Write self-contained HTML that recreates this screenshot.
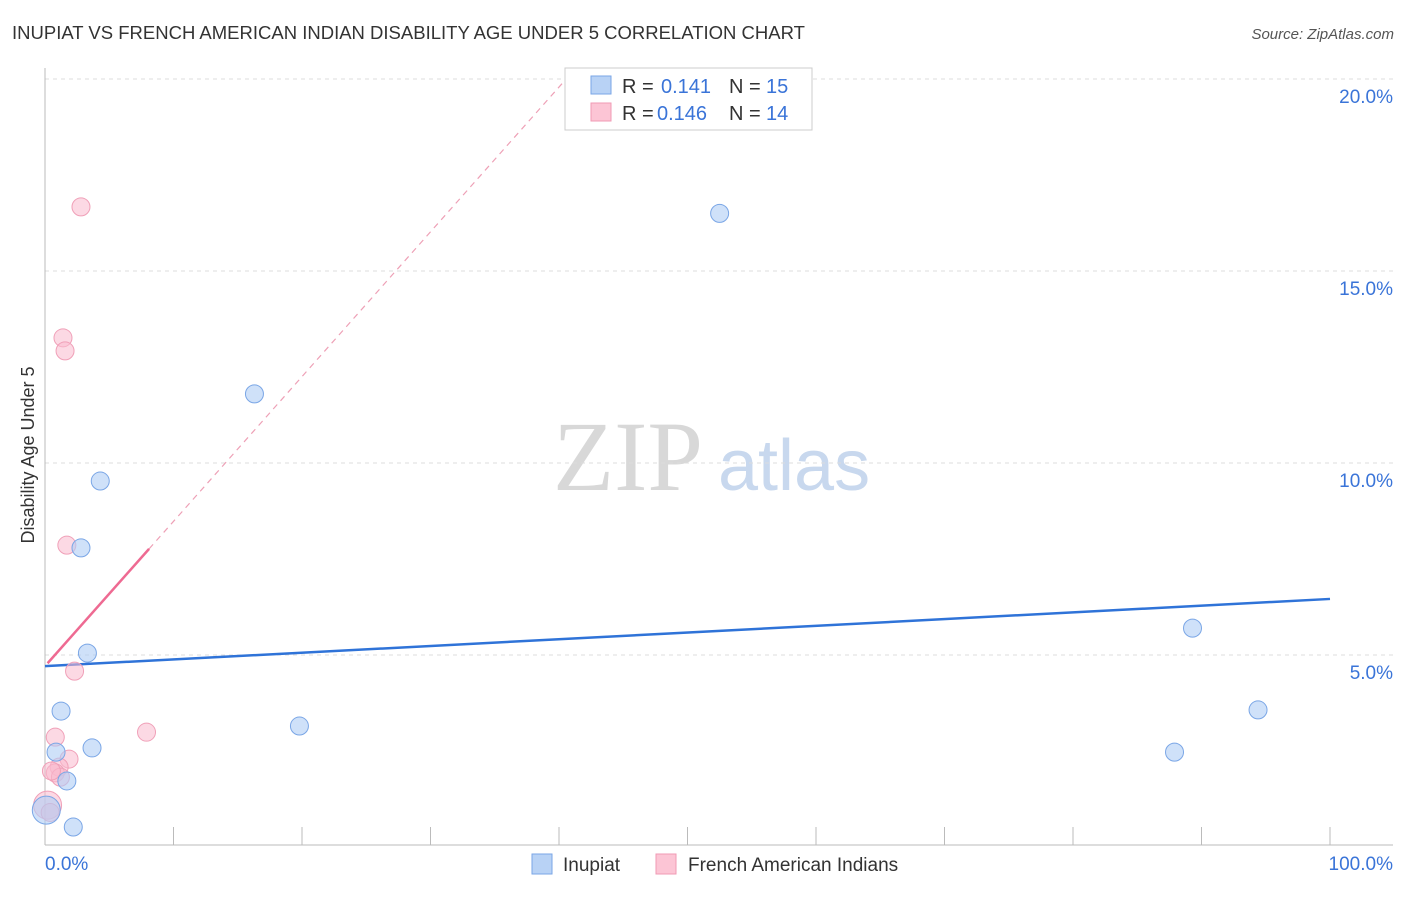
<!DOCTYPE html>
<html><head><meta charset="utf-8">
<style>
body{margin:0;background:#fff;font-family:"Liberation Sans",sans-serif;}
</style></head>
<body>
<svg id="chart" width="1406" height="892" xmlns="http://www.w3.org/2000/svg" font-family="Liberation Sans, sans-serif">
<text x="12" y="39" font-size="18.5" fill="#333">INUPIAT VS FRENCH AMERICAN INDIAN DISABILITY AGE UNDER 5 CORRELATION CHART</text>
<text x="1394" y="39" font-size="15" fill="#555" font-style="italic" text-anchor="end">Source: ZipAtlas.com</text>
<text x="34" y="455" font-size="18" fill="#333" text-anchor="middle" transform="rotate(-90 34 455)">Disability Age Under 5</text>
<text x="553" y="490" font-size="100" fill="#d8d8d8" style="font-family:'Liberation Serif',serif">ZIP</text>
<text x="718" y="490" font-size="72" fill="#c8d8ee">atlas</text>
<g id="grid"></g><g id="axes"></g><g id="trends"></g><g id="points"></g>
<g>
<rect x="565" y="68" width="247" height="62" fill="#fff" stroke="#ccc"/>
<rect x="591" y="76" width="20" height="18" fill="#b8d2f5" stroke="#7aa6e6"/>
<rect x="591" y="103" width="20" height="18" fill="#fcc5d5" stroke="#f09ab4"/>
<text x="622" y="93" font-size="20" fill="#333">R = </text><text x="661" y="93" font-size="20" fill="#3a74d8">0.141</text>
<text x="729" y="93" font-size="20" fill="#333">N = </text><text x="766" y="93" font-size="20" fill="#3a74d8">15</text>
<text x="622" y="120" font-size="20" fill="#333">R = </text><text x="657" y="120" font-size="20" fill="#3a74d8">0.146</text>
<text x="729" y="120" font-size="20" fill="#333">N = </text><text x="766" y="120" font-size="20" fill="#3a74d8">14</text>
</g>
<g>
<rect x="532" y="854" width="20" height="20" fill="#b8d2f5" stroke="#7aa6e6"/>
<text x="563" y="871" font-size="19" fill="#333">Inupiat</text></g>
<g>
<rect x="656" y="854" width="20" height="20" fill="#fcc5d5" stroke="#f09ab4"/>
<text x="688" y="871" font-size="19" fill="#333">French American Indians</text></g>
</svg>
<script>
const inupiatX=[52.5,16.3,4.3,2.8,3.3,1.25,0.86,3.66,1.7,2.2,19.8,89.3,94.4,87.9,0.1];
const inupiatY=[16.5,11.8,9.53,7.79,5.05,3.54,2.47,2.58,1.72,0.52,3.15,5.7,3.57,2.47,0.96];
const inupiatR=[9,9,9,9,9,9,9,9,9,9,9,9,9,9,14];
const frenchX=[2.8,1.4,1.56,1.7,2.3,7.9,0.8,1.87,1.1,0.8,1.2,0.5,0.2,0.4];
const frenchY=[16.67,13.26,12.92,7.86,4.58,2.99,2.86,2.29,2.08,1.93,1.82,1.98,1.09,0.9];
const frenchR=[9,9,9,9,9,9,9,9,9,9,9,9,14,9];
const yTicks=[5,10,15,20];
const yTickLabels=["5.0%","10.0%","15.0%","20.0%"];
const inupiatTrend=[4.71,6.46];
const frenchTrend=[4.71,0.377];
const NS="http://www.w3.org/2000/svg";
const sx=v=>45+v*12.85, sy=v=>847-v*38.4;
function mk(p,t,a){const e=document.createElementNS(NS,t);for(const k in a)e.setAttribute(k,a[k]);document.getElementById(p).appendChild(e);return e;}
yTicks.forEach((t,i)=>{
 const g=mk('grid','line',{x1:45,x2:1393,y1:sy(t),y2:sy(t),stroke:'#ddd','stroke-dasharray':'4,4'});
 
 
 const l=mk('grid','text',{x:1393,y:sy(t)+24,'font-size':19,fill:'#3a74d8','text-anchor':'end'});
 l.textContent=yTickLabels[i];
 
 
});
const ax=mk('axes','line',{x1:45,x2:1393,y1:845,y2:845,stroke:'#bbb'});


const ay=mk('axes','line',{x1:45,x2:45,y1:68,y2:845,stroke:'#bbb'});


for(let i=0;i<=10;i++){const t=mk('axes','line',{x1:sx(i*10),x2:sx(i*10),y1:827,y2:845,stroke:'#bbb'});
 
 }
const x0=mk('axes','text',{x:45,y:870,'font-size':19,fill:'#3a74d8'});x0.textContent='0.0%';


const x1=mk('axes','text',{x:1393,y:870,'font-size':19,fill:'#3a74d8','text-anchor':'end'});x1.textContent='100.0%';


const bt=mk('trends','line',{x1:sx(0),y1:sy(inupiatTrend[0]),x2:sx(100),y2:sy(inupiatTrend[1]),stroke:'#2f73d8','stroke-width':2.5});


const xe=(20-frenchTrend[0])/frenchTrend[1];
const pd=mk('trends','line',{x1:sx(8.1),y1:sy(frenchTrend[0]+frenchTrend[1]*8.1),x2:sx(xe),y2:sy(20),stroke:'#eea0b6','stroke-width':1.2,'stroke-dasharray':'6,5'});


const ps=mk('trends','line',{x1:sx(0.2),y1:sy(frenchTrend[0]+frenchTrend[1]*0.2),x2:sx(8.1),y2:sy(frenchTrend[0]+frenchTrend[1]*8.1),stroke:'#ee6a92','stroke-width':2.5});


frenchX.forEach((v,i)=>{const c=mk('points','circle',{cx:sx(v),cy:sy(frenchY[i]),r:frenchR[i],fill:'rgba(250,185,205,0.55)',stroke:'#f0a0b8'});
 
 });
inupiatX.forEach((v,i)=>{const c=mk('points','circle',{cx:sx(v),cy:sy(inupiatY[i]),r:inupiatR[i],fill:'rgba(175,205,245,0.6)',stroke:'#7aa6e6'});
 
 });
</script>
</body></html>
